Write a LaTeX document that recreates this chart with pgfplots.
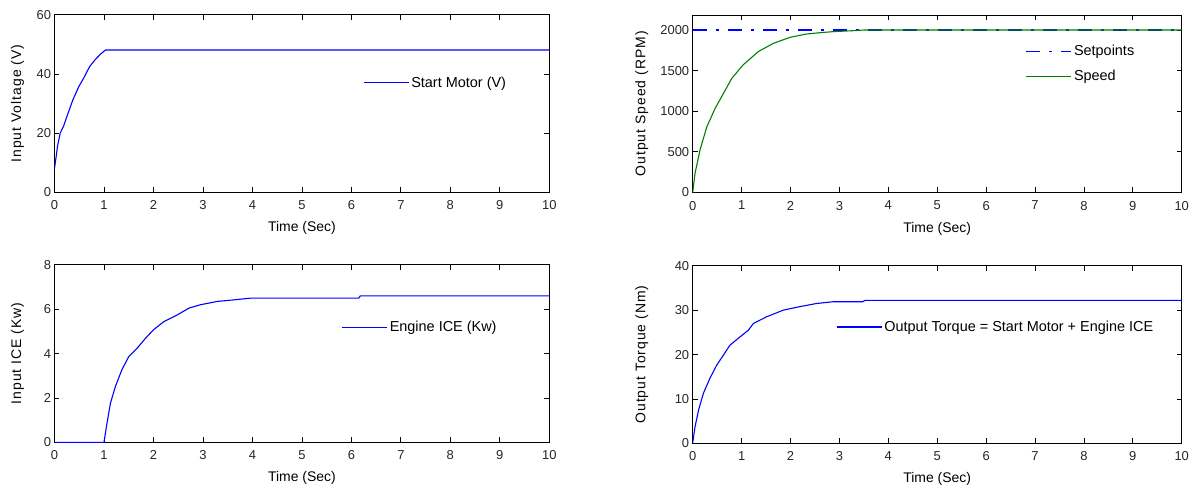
\documentclass[border=0pt]{standalone}
\usepackage{pgfplots}
\pgfplotsset{compat=1.18}
\usepackage{fontspec}
\setmainfont{Liberation Sans}
\newfontfamily\ylfont[LetterSpace=7]{Liberation Sans}
\definecolor{mblue}{RGB}{0,0,255}
\definecolor{mgreen}{RGB}{0,128,0}
\begin{document}
\begin{tikzpicture}
\useasboundingbox (0,0) rectangle (1195bp,491bp);
\pgfplotsset{
  mstyle/.style={
    scale only axis, anchor=south west,
    height=177.5bp,
    xmin=0, xmax=10, xtick={0,1,...,10},
    tick align=inside, tick pos=both,
    major tick length=5bp,
    axis line style={line width=0.8bp, black},
    every tick/.style={black, line width=0.8bp},
    tick label style={font=\fontsize{13}{15}\selectfont, text=black!85},
    /pgf/number format/assume math mode=true,
    /pgf/number format/set thousands separator={},
    xticklabel style={yshift=-5bp},
    xlabel={Time (Sec)},
    xlabel style={at={(axis description cs:0.5,-0.203)}, anchor=center, font=\fontsize{14}{16}\selectfont},
    ylabel style={anchor=center, font=\fontsize{14}{16}\ylfont},
    legend style={draw=none, fill=none, anchor=west, inner sep=0pt,
      font=\fontsize{14.5}{16}\selectfont, row sep=9bp},
    legend cell align=left,
    legend image code/.code={\draw[##1] (0bp,0bp) -- (45bp,0bp);},
    clip=true,
  }
}
% Top-left: Input voltage
\begin{axis}[mstyle, at={(54.5bp,298.7bp)}, width=494.8bp,
  ymin=0, ymax=60, ytick={0,20,40,60},
  ylabel={Input Voltage (V)},
  ylabel style={at={(axis description cs:-0.0748,0.5)}},
  legend style={at={(axis description cs:0.6235,0.617)}}]
\addplot[mblue, line width=1.1bp] coordinates {
(0,8.1) (0.034,12.1) (0.06,15.5) (0.115,20) (0.18,22.2) (0.25,25.6) (0.37,31.2)
(0.49,35.7) (0.59,38.6) (0.71,42.5) (0.82,44.8) (0.93,46.7) (1.03,48.1) (10,48.1)};
\addlegendentry{Start Motor (V)}
\end{axis}
% Top-right: Output speed
\begin{axis}[mstyle, at={(692.7bp,298.5bp)}, width=489bp,
  ymin=0, ymax=2185, ytick={0,500,1000,1500,2000},
  ylabel={Output Speed (RPM)},
  ylabel style={at={(axis description cs:-0.104,0.5)}},
  legend style={at={(axis description cs:0.681,0.725)}}]
\addplot[mblue, line width=1.1bp, dash pattern=on 14bp off 9bp on 3bp off 9bp] coordinates {(0,2000) (10,2000)};
\addlegendentry{Setpoints}
\addplot[mgreen, line width=1.1bp] coordinates {
(0,0) (0.048,238) (0.15,525) (0.29,811) (0.46,1037) (0.63,1221) (0.80,1406)
(1.03,1570) (1.34,1734) (1.65,1836) (1.99,1910) (2.33,1951) (2.6,1967)
(2.87,1980) (3.28,1992) (3.5,2000) (10,2000)};
\addlegendentry{Speed}
\end{axis}
% Bottom-left: Input ICE
\begin{axis}[mstyle, at={(54.5bp,48.7bp)}, width=494.8bp,
  ymin=0, ymax=8, ytick={0,2,4,6,8},
  ylabel={Input ICE (Kw)},
  ylabel style={at={(axis description cs:-0.0748,0.5)}},
  legend style={at={(axis description cs:0.580,0.649)}}]
\addplot[mblue, line width=1.1bp] coordinates {
(0,0) (0.98,0) (1.0,0) (1.05,0.71) (1.13,1.76) (1.23,2.51) (1.36,3.26) (1.5,3.86)
(1.67,4.24) (1.84,4.69) (2.0,5.07) (2.21,5.44) (2.48,5.74) (2.72,6.05)
(2.95,6.20) (3.29,6.35) (3.63,6.42) (3.97,6.50) (6.15,6.50) (6.18,6.60) (10,6.60)};
\addlegendentry{Engine ICE (Kw)}
\end{axis}
% Bottom-right: Output torque
\begin{axis}[mstyle, at={(692.7bp,47.7bp)}, width=489bp,
  ymin=0, ymax=40, ytick={0,10,20,30,40},
  ylabel={Output Torque (Nm)},
  ylabel style={at={(axis description cs:-0.104,0.5)}},
  legend style={at={(axis description cs:0.293,0.655)}}]
\addplot[mblue, line width=1.1bp] coordinates {
(0,0.15) (0.048,3.75) (0.12,7.5) (0.22,11.3) (0.35,14.6) (0.49,17.6) (0.63,19.9)
(0.76,22.1) (0.97,24.0) (1.14,25.5) (1.24,27.0) (1.51,28.5) (1.85,30.0)
(2.19,30.8) (2.53,31.5) (2.87,31.9) (3.48,31.9) (3.52,32.2) (10,32.2)};
\addlegendentry{Output Torque = Start Motor + Engine ICE}
\end{axis}
\end{tikzpicture}
\end{document}
